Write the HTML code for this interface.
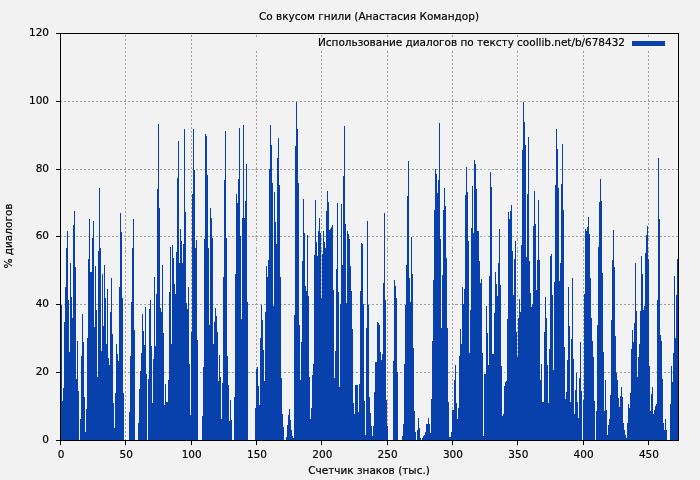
<!DOCTYPE html>
<html lang="ru"><head><meta charset="utf-8"><title>Со вкусом гнили</title>
<style>html,body{margin:0;padding:0;background:#f2f2f2}body{width:700px;height:480px;overflow:hidden}text{fill:#000;stroke:#000;stroke-width:.18px}</style></head>
<body>
<svg width="700" height="480" viewBox="0 0 700 480" style="display:block;will-change:transform;font-family:'DejaVu Sans','Liberation Sans',sans-serif;font-size:10.5px">
<rect width="700" height="480" fill="#f2f2f2"/>
<g stroke="#a0a0a0" stroke-width="1" stroke-dasharray="2 2" fill="none" shape-rendering="crispEdges"><path d="M125.5 33.5V440.5M191.5 33.5V440.5M256.5 33.5V440.5M321.5 33.5V440.5M387.5 33.5V440.5M452.5 33.5V440.5M517.5 33.5V440.5M583.5 33.5V440.5M648.5 33.5V440.5" stroke-dashoffset="3"/><path d="M60.5 372.5H678.5M60.5 304.5H678.5M60.5 236.5H678.5M60.5 169.5H678.5M60.5 101.5H678.5" stroke-dashoffset="1"/></g>
<rect x="236" y="38" width="441" height="12" fill="#f2f2f2"/>
<path d="M61 440V305h1V440zM62 440V401h1V440zM63 440V388h1V440zM64 440V322h1V440zM65 440V287h1V440zM66 440V248h1V440zM67 440V231h1V440zM68 440V300h1V440zM69 440V352h1V440zM70 440V263h1V440zM71 440V297h1V440zM72 440V318h1V440zM73 440V225h1V440zM74 440V211h1V440zM75 440V267h1V440zM76 440V379h1V440zM77 440V341h1V440zM78 440V391h1V440zM80 440V419h1V440zM81 440V356h1V440zM82 440V314h1V440zM83 440V342h1V440zM84 440V397h1V440zM85 440V432h1V440zM86 440V409h1V440zM87 440V338h1V440zM88 440V259h1V440zM89 440V219h1V440zM90 440V272h1V440zM91 440V272h1V440zM92 440V238h1V440zM93 440V221h1V440zM94 440V327h1V440zM95 440V266h1V440zM96 440V310h1V440zM97 440V377h1V440zM98 440V251h1V440zM99 440V188h1V440zM100 440V248h1V440zM101 440V351h1V440zM102 440V274h1V440zM103 440V326h1V440zM104 440V265h1V440zM105 440V298h1V440zM106 440V344h1V440zM107 440V289h1V440zM108 440V358h1V440zM109 440V365h1V440zM110 440V312h1V440zM111 440V278h1V440zM112 440V334h1V440zM113 440V403h1V440zM114 440V428h1V440zM115 440V393h1V440zM116 440V344h1V440zM117 440V354h1V440zM118 440V361h1V440zM119 440V287h1V440zM120 440V213h1V440zM121 440V232h1V440zM122 440V298h1V440zM123 440V393h1V440zM129 440V412h1V440zM130 440V356h1V440zM131 440V302h1V440zM132 440V248h1V440zM133 440V219h1V440zM134 440V330h1V440zM138 440V423h1V440zM139 440V389h1V440zM140 440V371h1V440zM141 440V353h1V440zM142 440V314h1V440zM143 440V331h1V440zM144 440V345h1V440zM145 440V307h1V440zM146 440V374h1V440zM148 440V379h1V440zM149 440V309h1V440zM150 440V300h1V440zM151 440V346h1V440zM152 440V403h1V440zM153 440V359h1V440zM154 440V277h1V440zM155 440V346h1V440zM156 440V294h1V440zM157 440V189h1V440zM158 440V124h1V440zM159 440V208h1V440zM160 440V308h1V440zM161 440V312h1V440zM162 440V265h1V440zM163 440V333h1V440zM164 440V405h1V440zM165 440V384h1V440zM166 440V402h1V440zM167 440V402h1V440zM168 440V380h1V440zM169 440V292h1V440zM170 440V247h1V440zM171 440V344h1V440zM172 440V245h1V440zM173 440V258h1V440zM174 440V284h1V440zM175 440V294h1V440zM176 440V252h1V440zM177 440V178h1V440zM178 440V141h1V440zM179 440V263h1V440zM180 440V229h1V440zM181 440V241h1V440zM182 440V263h1V440zM183 440V244h1V440zM184 440V129h1V440zM185 440V212h1V440zM186 440V303h1V440zM187 440V309h1V440zM188 440V287h1V440zM189 440V364h1V440zM190 440V415h1V440zM191 440V332h1V440zM192 440V194h1V440zM193 440V129h1V440zM194 440V170h1V440zM195 440V248h1V440zM196 440V240h1V440zM197 440V340h1V440zM202 440V416h1V440zM203 440V367h1V440zM204 440V239h1V440zM205 440V134h1V440zM206 440V136h1V440zM207 440V175h1V440zM208 440V248h1V440zM209 440V325h1V440zM210 440V208h1V440zM211 440V218h1V440zM212 440V238h1V440zM213 440V344h1V440zM214 440V322h1V440zM215 440V308h1V440zM216 440V316h1V440zM217 440V332h1V440zM218 440V381h1V440zM219 440V355h1V440zM220 440V377h1V440zM221 440V419h1V440zM222 440V383h1V440zM223 440V277h1V440zM224 440V180h1V440zM225 440V131h1V440zM226 440V238h1V440zM227 440V356h1V440zM228 440V385h1V440zM229 440V421h1V440zM230 440V400h1V440zM231 440V420h1V440zM234 440V397h1V440zM235 440V274h1V440zM236 440V194h1V440zM237 440V203h1V440zM238 440V179h1V440zM239 440V128h1V440zM240 440V236h1V440zM241 440V319h1V440zM242 440V218h1V440zM243 440V125h1V440zM244 440V218h1V440zM245 440V201h1V440zM246 440V164h1V440zM247 440V302h1V440zM255 440V408h1V440zM256 440V369h1V440zM257 440V367h1V440zM258 440V386h1V440zM259 440V405h1V440zM260 440V338h1V440zM261 440V305h1V440zM262 440V320h1V440zM263 440V350h1V440zM264 440V381h1V440zM265 440V312h1V440zM266 440V266h1V440zM267 440V277h1V440zM268 440V260h1V440zM269 440V169h1V440zM270 440V125h1V440zM271 440V145h1V440zM272 440V183h1V440zM273 440V306h1V440zM274 440V192h1V440zM275 440V222h1V440zM276 440V244h1V440zM277 440V158h1V440zM278 440V138h1V440zM279 440V185h1V440zM280 440V277h1V440zM281 440V378h1V440zM282 440V414h1V440zM283 440V427h1V440zM286 440V437h1V440zM287 440V425h1V440zM288 440V415h1V440zM289 440V409h1V440zM290 440V420h1V440zM291 440V430h1V440zM292 440V436h1V440zM293 440V438h1V440zM294 440V315h1V440zM295 440V146h1V440zM296 440V102h1V440zM297 440V129h1V440zM298 440V183h1V440zM299 440V325h1V440zM300 440V380h1V440zM301 440V342h1V440zM302 440V261h1V440zM303 440V199h1V440zM304 440V233h1V440zM305 440V286h1V440zM306 440V291h1V440zM307 440V235h1V440zM308 440V296h1V440zM309 440V377h1V440zM310 440V419h1V440zM311 440V408h1V440zM312 440V375h1V440zM313 440V364h1V440zM314 440V255h1V440zM315 440V200h1V440zM316 440V242h1V440zM317 440V256h1V440zM318 440V231h1V440zM319 440V218h1V440zM320 440V233h1V440zM321 440V298h1V440zM322 440V254h1V440zM323 440V231h1V440zM324 440V242h1V440zM325 440V248h1V440zM326 440V211h1V440zM327 440V191h1V440zM328 440V202h1V440zM329 440V230h1V440zM330 440V229h1V440zM331 440V227h1V440zM332 440V225h1V440zM333 440V290h1V440zM334 440V378h1V440zM335 440V351h1V440zM336 440V269h1V440zM337 440V203h1V440zM338 440V292h1V440zM339 440V387h1V440zM340 440V304h1V440zM341 440V204h1V440zM342 440V265h1V440zM343 440V176h1V440zM344 440V126h1V440zM345 440V224h1V440zM346 440V303h1V440zM347 440V231h1V440zM348 440V234h1V440zM349 440V239h1V440zM350 440V266h1V440zM351 440V291h1V440zM352 440V329h1V440zM353 440V403h1V440zM354 440V414h1V440zM355 440V385h1V440zM356 440V385h1V440zM357 440V385h1V440zM358 440V412h1V440zM359 440V384h1V440zM360 440V291h1V440zM361 440V243h1V440zM362 440V244h1V440zM363 440V304h1V440zM364 440V401h1V440zM365 440V435h1V440zM366 440V328h1V440zM367 440V221h1V440zM368 440V305h1V440zM369 440V397h1V440zM370 440V413h1V440zM371 440V426h1V440zM372 440V436h1V440zM373 440V426h1V440zM374 440V392h1V440zM375 440V362h1V440zM376 440V362h1V440zM377 440V322h1V440zM378 440V323h1V440zM379 440V325h1V440zM380 440V352h1V440zM381 440V360h1V440zM382 440V354h1V440zM383 440V283h1V440zM384 440V213h1V440zM385 440V300h1V440zM386 440V400h1V440zM387 440V426h1V440zM393 440V361h1V440zM394 440V280h1V440zM395 440V286h1V440zM396 440V298h1V440zM397 440V372h1V440zM402 440V436h1V440zM403 440V424h1V440zM404 440V364h1V440zM405 440V305h1V440zM406 440V265h1V440zM407 440V196h1V440zM408 440V161h1V440zM409 440V278h1V440zM410 440V302h1V440zM411 440V237h1V440zM412 440V274h1V440zM413 440V348h1V440zM414 440V411h1V440zM415 440V432h1V440zM417 440V430h1V440zM418 440V418h1V440zM419 440V428h1V440zM420 440V438h1V440zM422 440V438h1V440zM423 440V436h1V440zM424 440V435h1V440zM425 440V432h1V440zM426 440V424h1V440zM427 440V424h1V440zM428 440V418h1V440zM429 440V424h1V440zM430 440V433h1V440zM431 440V399h1V440zM432 440V341h1V440zM433 440V280h1V440zM434 440V210h1V440zM435 440V169h1V440zM436 440V174h1V440zM437 440V193h1V440zM438 440V180h1V440zM439 440V123h1V440zM440 440V239h1V440zM441 440V328h1V440zM442 440V275h1V440zM443 440V210h1V440zM444 440V188h1V440zM445 440V206h1V440zM446 440V258h1V440zM447 440V328h1V440zM448 440V402h1V440zM449 440V437h1V440zM450 440V437h1V440zM451 440V432h1V440zM452 440V410h1V440zM453 440V410h1V440zM454 440V380h1V440zM455 440V365h1V440zM456 440V403h1V440zM457 440V419h1V440zM458 440V408h1V440zM459 440V356h1V440zM460 440V329h1V440zM461 440V344h1V440zM462 440V287h1V440zM463 440V304h1V440zM464 440V289h1V440zM465 440V195h1V440zM466 440V167h1V440zM467 440V192h1V440zM468 440V241h1V440zM469 440V353h1V440zM470 440V310h1V440zM471 440V228h1V440zM472 440V186h1V440zM473 440V233h1V440zM474 440V160h1V440zM475 440V164h1V440zM476 440V189h1V440zM477 440V231h1V440zM478 440V231h1V440zM479 440V261h1V440zM480 440V283h1V440zM481 440V279h1V440zM482 440V353h1V440zM483 440V436h1V440zM484 440V374h1V440zM485 440V374h1V440zM486 440V306h1V440zM487 440V333h1V440zM488 440V365h1V440zM489 440V276h1V440zM490 440V172h1V440zM491 440V187h1V440zM492 440V354h1V440zM493 440V354h1V440zM494 440V313h1V440zM495 440V272h1V440zM496 440V284h1V440zM497 440V296h1V440zM498 440V263h1V440zM499 440V229h1V440zM500 440V285h1V440zM501 440V366h1V440zM502 440V416h1V440zM503 440V414h1V440zM504 440V386h1V440zM505 440V382h1V440zM506 440V381h1V440zM507 440V319h1V440zM508 440V212h1V440zM509 440V219h1V440zM510 440V211h1V440zM511 440V205h1V440zM512 440V251h1V440zM513 440V295h1V440zM514 440V259h1V440zM515 440V241h1V440zM516 440V332h1V440zM517 440V357h1V440zM518 440V318h1V440zM519 440V299h1V440zM520 440V312h1V440zM521 440V245h1V440zM522 440V150h1V440zM523 440V102h1V440zM524 440V122h1V440zM525 440V145h1V440zM526 440V257h1V440zM527 440V194h1V440zM528 440V137h1V440zM529 440V261h1V440zM530 440V293h1V440zM531 440V307h1V440zM532 440V304h1V440zM533 440V226h1V440zM534 440V191h1V440zM535 440V224h1V440zM536 440V290h1V440zM537 440V260h1V440zM538 440V200h1V440zM539 440V260h1V440zM540 440V380h1V440zM541 440V364h1V440zM542 440V402h1V440zM543 440V402h1V440zM544 440V332h1V440zM545 440V297h1V440zM546 440V318h1V440zM547 440V365h1V440zM548 440V403h1V440zM549 440V349h1V440zM550 440V256h1V440zM551 440V254h1V440zM552 440V295h1V440zM553 440V370h1V440zM554 440V282h1V440zM555 440V185h1V440zM556 440V129h1V440zM557 440V149h1V440zM558 440V188h1V440zM559 440V281h1V440zM560 440V263h1V440zM561 440V184h1V440zM562 440V144h1V440zM563 440V210h1V440zM564 440V347h1V440zM565 440V399h1V440zM566 440V392h1V440zM567 440V360h1V440zM568 440V287h1V440zM569 440V326h1V440zM570 440V402h1V440zM571 440V339h1V440zM572 440V278h1V440zM573 440V359h1V440zM574 440V414h1V440zM575 440V390h1V440zM576 440V373h1V440zM577 440V402h1V440zM578 440V418h1V440zM579 440V378h1V440zM580 440V342h1V440zM581 440V391h1V440zM583 440V400h1V440zM584 440V294h1V440zM585 440V229h1V440zM586 440V231h1V440zM587 440V227h1V440zM588 440V217h1V440zM589 440V234h1V440zM590 440V278h1V440zM591 440V318h1V440zM592 440V341h1V440zM593 440V357h1V440zM594 440V401h1V440zM596 440V411h1V440zM597 440V325h1V440zM598 440V247h1V440zM599 440V202h1V440zM600 440V179h1V440zM601 440V201h1V440zM602 440V273h1V440zM603 440V352h1V440zM604 440V411h1V440zM605 440V380h1V440zM606 440V410h1V440zM607 440V435h1V440zM608 440V425h1V440zM609 440V419h1V440zM610 440V395h1V440zM611 440V320h1V440zM612 440V260h1V440zM613 440V230h1V440zM614 440V267h1V440zM615 440V336h1V440zM616 440V373h1V440zM617 440V380h1V440zM618 440V398h1V440zM619 440V407h1V440zM620 440V396h1V440zM621 440V387h1V440zM622 440V397h1V440zM623 440V423h1V440zM624 440V430h1V440zM625 440V435h1V440zM626 440V438h1V440zM627 440V423h1V440zM628 440V404h1V440zM629 440V408h1V440zM630 440V393h1V440zM631 440V349h1V440zM632 440V330h1V440zM633 440V342h1V440zM634 440V323h1V440zM635 440V263h1V440zM636 440V311h1V440zM637 440V377h1V440zM638 440V357h1V440zM639 440V344h1V440zM640 440V311h1V440zM641 440V256h1V440zM642 440V274h1V440zM643 440V310h1V440zM644 440V306h1V440zM645 440V253h1V440zM646 440V235h1V440zM647 440V226h1V440zM648 440V259h1V440zM649 440V366h1V440zM650 440V411h1V440zM651 440V394h1V440zM652 440V387h1V440zM653 440V414h1V440zM654 440V410h1V440zM655 440V406h1V440zM656 440V404h1V440zM657 440V300h1V440zM658 440V158h1V440zM659 440V219h1V440zM660 440V335h1V440zM661 440V341h1V440zM662 440V379h1V440zM663 440V423h1V440zM664 440V430h1V440zM665 440V419h1V440zM666 440V430h1V440zM670 440V404h1V440zM671 440V366h1V440zM672 440V382h1V440zM673 440V353h1V440zM674 440V276h1V440zM675 440V338h1V440zM676 440V295h1V440zM677 440V259h1V440z" fill="#0841ab" shape-rendering="crispEdges"/>
<path d="M60.5 33.5H678.5V440.5H60.5zM60.5 440.5v4.5M125.5 440.5v4.5M191.5 440.5v4.5M256.5 440.5v4.5M321.5 440.5v4.5M387.5 440.5v4.5M452.5 440.5v4.5M517.5 440.5v4.5M583.5 440.5v4.5M648.5 440.5v4.5M60.5 440.5h-4.5M60.5 372.5h-4.5M60.5 304.5h-4.5M60.5 236.5h-4.5M60.5 169.5h-4.5M60.5 101.5h-4.5M60.5 33.5h-4.5" stroke="#000" stroke-width="1" fill="none" shape-rendering="crispEdges"/>
<text x="61.0" y="458" text-anchor="middle">0</text>
<text x="126.3" y="458" text-anchor="middle">50</text>
<text x="191.7" y="458" text-anchor="middle">100</text>
<text x="257.0" y="458" text-anchor="middle">150</text>
<text x="322.3" y="458" text-anchor="middle">200</text>
<text x="387.6" y="458" text-anchor="middle">250</text>
<text x="452.9" y="458" text-anchor="middle">300</text>
<text x="518.3" y="458" text-anchor="middle">350</text>
<text x="583.6" y="458" text-anchor="middle">400</text>
<text x="648.9" y="458" text-anchor="middle">450</text>
<text x="49" y="442.9" text-anchor="end">0</text>
<text x="49" y="375.1" text-anchor="end">20</text>
<text x="49" y="307.2" text-anchor="end">40</text>
<text x="49" y="239.4" text-anchor="end">60</text>
<text x="49" y="171.6" text-anchor="end">80</text>
<text x="49" y="103.7" text-anchor="end">100</text>
<text x="49" y="35.9" text-anchor="end">120</text>
<text x="369" y="20" text-anchor="middle">Со вкусом гнили (Анастасия Командор)</text>
<text x="369" y="473.5" text-anchor="middle">Счетчик знаков (тыс.)</text>
<text transform="translate(12.3,236) rotate(-90)" text-anchor="middle">% диалогов</text>
<text x="625" y="45.6" text-anchor="end" textLength="307" lengthAdjust="spacing">Использование диалогов по тексту coollib.net/b/678432</text>
<rect x="632" y="41" width="33" height="5" fill="#0841ab" shape-rendering="crispEdges"/>
</svg>
</body></html>
